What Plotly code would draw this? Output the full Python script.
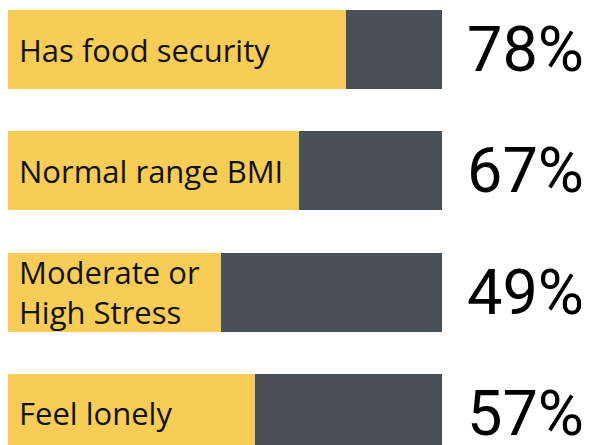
import plotly.graph_objects as go

labels = ["Has food security", "Normal range BMI", "Moderate or<br>High Stress", "Feel lonely"]
percents = [78, 67, 49, 57]
rest = [100 - p for p in percents]
rows = [0, 1, 2, 3]

yellow = "#F7CD57"
dark = "#4A5058"

fig = go.Figure()

fig.add_trace(go.Bar(
    y=rows, x=percents, orientation="h",
    marker=dict(color=yellow, line=dict(width=0)),
    width=0.65, hoverinfo="skip"
))
fig.add_trace(go.Bar(
    y=rows, x=rest, orientation="h",
    marker=dict(color=dark, line=dict(width=0)),
    width=0.65, hoverinfo="skip"
))

for r, lab, p in zip(rows, labels, percents):
    fig.add_annotation(
        x=0, y=r, xref="x", yref="y", text=lab, showarrow=False,
        xanchor="left", yanchor="middle", xshift=9, align="left",
        font=dict(family="Open Sans", size=31, color="#111111")
    )
    fig.add_annotation(
        x=105.3, y=r, xref="x", yref="y", text=f"{p}%", showarrow=False,
        xanchor="left", yanchor="middle",
        font=dict(family="Roboto", size=63, color="#000000")
    )

fig.update_layout(
    barmode="stack",
    width=589, height=445,
    margin=dict(l=0, r=0, t=0, b=0),
    plot_bgcolor="white", paper_bgcolor="white",
    showlegend=False,
    xaxis=dict(range=[-1.84, 133.9], visible=False, fixedrange=True),
    yaxis=dict(range=[3.26, -0.408], visible=False, fixedrange=True),
)

fig.write_html("out.html", config={"displayModeBar": False},
               post_script="document.body.style.margin='0';")
